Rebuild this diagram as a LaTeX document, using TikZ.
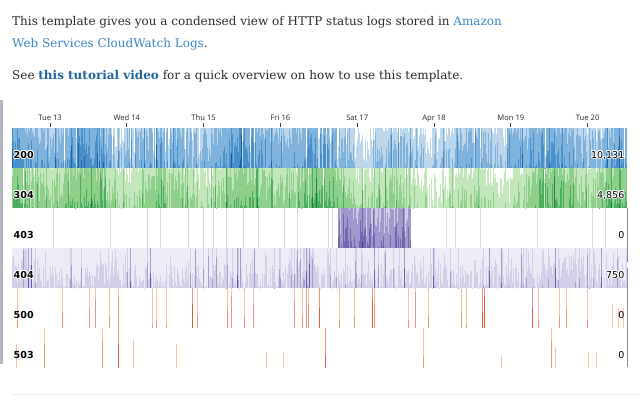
\documentclass[tikz,border=0pt]{standalone}
\usepackage{fontspec}
\setmainfont{DejaVu Serif}
\newfontfamily\lblfont{DejaVu Sans}
\newfontfamily\tickfont{Noto Sans}
\definecolor{txt}{HTML}{2B2B2B}
\definecolor{linkc}{HTML}{3C86C4}
\definecolor{linkb}{HTML}{22659F}
\definecolor{sidebar}{HTML}{B3B7C0}
\definecolor{blueA}{HTML}{BCD6EC}
\definecolor{blueB}{HTML}{80B3DC}
\definecolor{blueC}{HTML}{4A8FC8}
\definecolor{blueD}{HTML}{1C62A8}
\definecolor{greenA}{HTML}{C2E7BB}
\definecolor{greenB}{HTML}{8ED08A}
\definecolor{greenC}{HTML}{4CAE5D}
\definecolor{greenD}{HTML}{1E7F3C}
\definecolor{purA}{HTML}{CFCCE6}
\definecolor{purB}{HTML}{A098CB}
\definecolor{purC}{HTML}{7566B0}
\definecolor{purD}{HTML}{51318F}
\definecolor{purPale}{HTML}{D8D6EB}
\definecolor{lavA}{HTML}{EDECF6}
\definecolor{lavB}{HTML}{D2CFE8}
\definecolor{lavC}{HTML}{A49ECF}
\definecolor{lavD}{HTML}{6A5AAA}
\definecolor{redA}{HTML}{FAC0AC}
\definecolor{redB}{HTML}{F5947E}
\definecolor{redC}{HTML}{E55A47}
\definecolor{redD}{HTML}{C0272D}
\newcommand\drawbands[1]{%
  \pgfmathsetmacro\hA{40*min(max(\v,0),1)}%
  \pgfmathsetmacro\hB{40*min(max(\v-1,0),1)}%
  \pgfmathsetmacro\hC{40*min(max(\v-2,0),1)}%
  \pgfmathsetmacro\hD{40*min(max(\v-3,0),1)}%
  \ifdim\hA pt>0.1pt \fill[bandA] (\x,#1) rectangle ++(\bw,-\hA);\fi
  \ifdim\hB pt>0.1pt \fill[bandB] (\x,#1) rectangle ++(\bw,-\hB);\fi
  \ifdim\hC pt>0.1pt \fill[bandC] (\x,#1) rectangle ++(\bw,-\hC);\fi
  \ifdim\hD pt>0.1pt \fill[bandD] (\x,#1) rectangle ++(\bw,-\hD);\fi
}
\def\bw{1.15}
\newcommand\halolabel[4]{%
  \foreach \hx/\hy in {1/0,-1/0,0/1,0/-1,.7/.7,-.7/.7,.7/-.7,-.7/-.7}
    \node[anchor=#2,inner sep=0pt,text=white] at ([shift={(\hx,\hy)}]#3) {#4};
  \node[anchor=#2,inner sep=0pt] (#1) at (#3) {#4};
}
\tikzset{
  para/.style={anchor=base west,inner sep=0pt,text=txt,font=\fontsize{12}{14}\selectfont},
  ticklbl/.style={anchor=base,inner sep=0pt,text=black!80,font=\tickfont\fontsize{7.6}{9}\selectfont},
  tickmark/.style={draw=black!75,line width=0.7pt},
  codelbl/.style={anchor=base west,inner sep=0pt,font=\lblfont\bfseries\fontsize{9.6}{11}\selectfont},
  vallbl/.style={anchor=base east,inner sep=0pt,font=\lblfont\fontsize{9.5}{11}\selectfont},
  rule/.style={draw=black!45,line width=0.6pt},
}
\begin{document}
\begin{tikzpicture}[x=1pt,y=-1pt]
\useasboundingbox (0,0) rectangle (640,400);
\fill[white] (0,0) rectangle (640,400);
% text
\node[para] (l1) at (12,25) {This template gives you a condensed view of HTTP status logs stored in \textcolor{linkc}{Amazon}};
\node[para] (l2) at (12,47) {\textcolor{linkc}{Web Services CloudWatch Logs}.};
\node[para] (l3) at (12,79) {See \textcolor{linkb}{\bfseries this tutorial video} for a quick overview on how to use this template.};
% side bar
\fill[sidebar] (0,100) rectangle (3.2,364);
% ticks
\foreach \lab [count=\k from 0] in {Tue 13,Wed 14,Thu 15,Fri 16,Sat 17,Apr 18,Mon 19,Tue 20}{
  \pgfmathsetmacro\tx{50+76.8*\k}
  \node[ticklbl] (tick\k) at (\tx,120) {\lab};
  \draw[tickmark] (\tx,123) -- (\tx,127);
}
% row 200
\colorlet{bandA}{blueA}\colorlet{bandB}{blueB}\colorlet{bandC}{blueC}\colorlet{bandD}{blueD}
\pgfmathsetseed{11}
\foreach \x in {12,...,626}{
  \pgfmathsetmacro\v{(1.95-0.8*(\x>354)*(\x<507)) + 0.45*sin(4.6875*(\x-50)-90) + 0.25*sin(1.7*\x) + 1.0*rnd - 0.5 + 1.2*rnd^7}
  \pgfmathsetmacro\dr{rnd}
  \ifdim\dr pt<0.07pt \pgfmathsetmacro\v{0.2+0.75*rnd}\fi
  \drawbands{168}
}
% row 304
\colorlet{bandA}{greenA}\colorlet{bandB}{greenB}\colorlet{bandC}{greenC}\colorlet{bandD}{greenD}
\pgfmathsetseed{23}
\foreach \x in {12,...,626}{
  \pgfmathsetmacro\v{(1.55-0.55*(\x>354)*(\x<512)) + 0.45*sin(4.6875*(\x-50)-90) + 0.3*sin(1.3*\x+40) + 0.9*rnd - 0.45 + 1.4*rnd^7}
  \pgfmathsetmacro\dr{rnd}
  \ifdim\dr pt<0.04pt \pgfmathsetmacro\v{0.5+0.5*rnd}\fi
  \drawbands{208}
}
% row 403
\foreach \x in {53,110,147,160,188,203,213,226,243,258,284,297,328,332,446,455,480,537,592,605}{
  \fill[purPale] (\x,248) rectangle ++(0.9,-40);
}
\colorlet{bandA}{purA}\colorlet{bandB}{purB}\colorlet{bandC}{purC}\colorlet{bandD}{purD}
\pgfmathsetseed{37}
\foreach \x in {338,...,410}{
  \pgfmathsetmacro\v{1.25+1.3*rnd+0.9*rnd^4}
  \drawbands{248}
}
% row 404
\colorlet{bandA}{lavA}\colorlet{bandB}{lavB}\colorlet{bandC}{lavC}\colorlet{bandD}{lavD}
\pgfmathsetseed{41}
\foreach \x in {12,...,626}{
  \pgfmathsetmacro\v{1.0+0.6*rnd^2+2.3*rnd^10+0.6*((\x<40)+(\x>95)*(\x<118)+(\x>288)*(\x<318)+(\x>545)*(\x<585))*rnd}
  \drawbands{288}
}
% row 500
\colorlet{bandA}{redA}\colorlet{bandB}{redB}\colorlet{bandC}{redC}\colorlet{bandD}{redD}
\def\bw{1.0}
\foreach \x/\v in {17/1.2,62/1.4,89/1.5,95/1.7,109/1.3,118/1.8,152/1.1,156/1.2,166/1.1,192/2.6,197/1.3,227/1.5,231/1.8,244/1.3,253/1.6,294/1.7,302/1.3,306/2.0,308/1.6,
  319/2.5,339/1.2,354/1.3,372/2.7,374/1.6,408/1.2,415/1.9,428/1.3,461/1.4,466/1.1,482/2.4,484/2.8,532/2.5,538/1.2,559/1.3,566/1.5,587/1.2,612/0.6,618/0.5,623/0.5}{
  \drawbands{328}
}
% row 503
\foreach \x/\v in {16/0.6,44/1.6,102/1.7,118/2.6,133/0.7,176/0.6,266/0.4,283/0.4,325/2.3,423/1.3,501/0.3,551/1.7,555/0.5,588/0.4,596/0.4}{
  \drawbands{368}
}
% right rules
\draw[rule] (627.6,208) -- (627.6,262);
\draw[rule] (627.6,268) -- (627.6,367);
% bottom line
\draw[black!7,line width=1pt] (12,394.5) -- (640,394.5);
% labels
\halolabel{n200}{base west}{13.5,158}{\lblfont\bfseries\fontsize{9.6}{11}\selectfont 200}
\halolabel{n304}{base west}{13.5,198}{\lblfont\bfseries\fontsize{9.6}{11}\selectfont 304}
\node[codelbl] (n403) at (13.5,238) {403};
\halolabel{n404}{base west}{13.5,278}{\lblfont\bfseries\fontsize{9.6}{11}\selectfont 404}
\node[codelbl] (n500) at (13.5,318) {500};
\node[codelbl] (n503) at (13.5,358) {503};
\halolabel{v200}{base east}{624.5,158}{\lblfont\fontsize{9.5}{11}\selectfont 10,131}
\halolabel{v304}{base east}{624.5,198}{\lblfont\fontsize{9.5}{11}\selectfont 4,856}
\node[vallbl] (v403) at (624.5,238) {0};
\halolabel{v404}{base east}{624.5,278}{\lblfont\fontsize{9.5}{11}\selectfont 750}
\node[vallbl] (v500) at (624.5,318) {0};
\node[vallbl] (v503) at (624.5,358) {0};
\end{tikzpicture}
\end{document}
